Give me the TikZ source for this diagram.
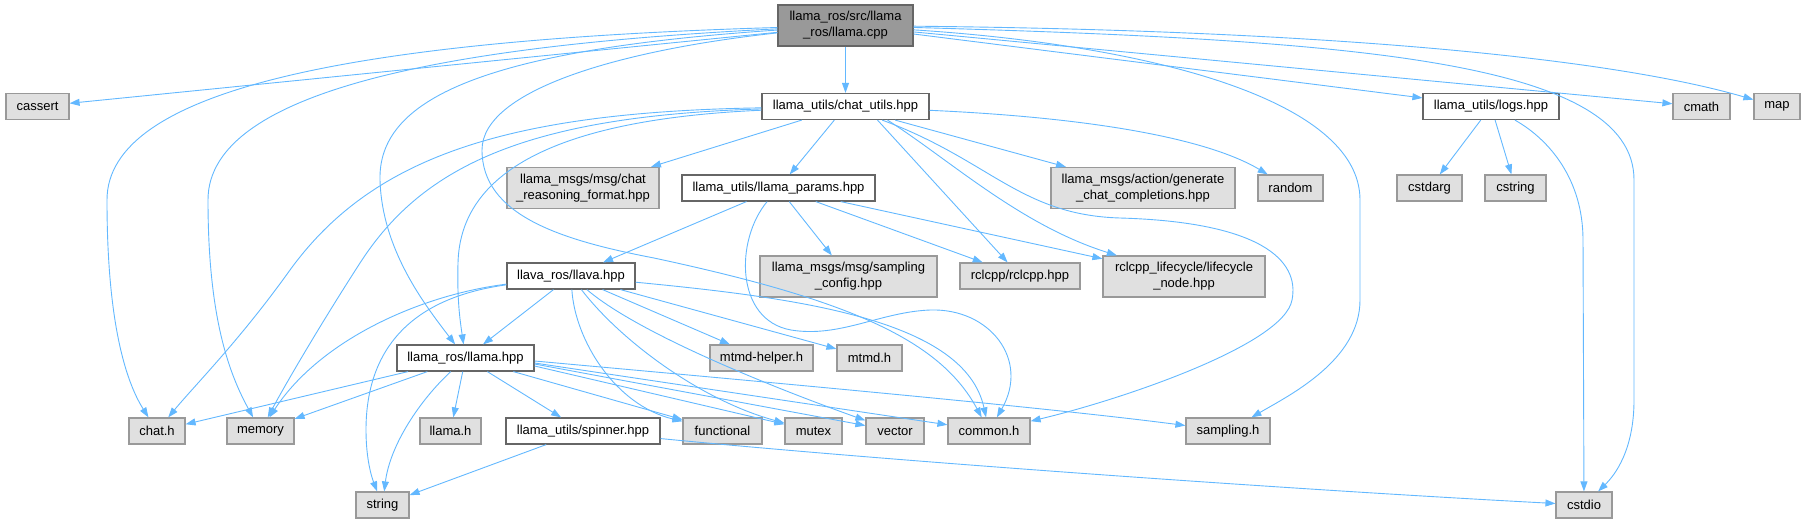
\documentclass[tikz,border=0pt]{standalone}
\usepackage{fontspec}
\setmainfont{Liberation Sans}
\usetikzlibrary{arrows.meta}
\definecolor{EdgeBlue}{HTML}{63B8FF}
\definecolor{BoxGray}{HTML}{E0E0E0}
\definecolor{LineGray}{HTML}{999999}
\definecolor{DarkGray}{HTML}{666666}
\tikzset{
  basebox/.style={rectangle, inner sep=0pt, align=center, line width=1.2pt,
    minimum height=26, font=\fontsize{13}{16}\selectfont},
  rootbox/.style={basebox, draw=DarkGray, fill=LineGray, minimum height=41},
  wbox/.style={basebox, draw=DarkGray, fill=white},
  gbox/.style={basebox, draw=LineGray, fill=BoxGray},
  gboxx/.style={gbox, minimum height=41},
  inc/.style={-{Triangle[length=10pt, width=7pt]}, line width=0.9pt, draw=EdgeBlue},
}

\begin{document}
\begin{tikzpicture}[x=1pt, y=-1pt]
    \useasboundingbox (0,0) rectangle (1806,523);
    % top rows
    \node[rootbox, minimum width=135] (root) at (845.5,25.5) {llama\_ros/src/llama\\\_ros/llama.cpp};
    \node[gbox, minimum width=63] (cassert) at (37.5,106.5) {cassert};
    \node[wbox, minimum width=167] (chatutils) at (845.5,106.5) {llama\_utils/chat\_utils.hpp};
    \node[wbox, minimum width=136] (logs) at (1491,106.5) {llama\_utils/logs.hpp};
    \node[gbox, minimum width=57] (cmath) at (1701.5,106.5) {cmath};
    \node[gbox, minimum width=46] (map) at (1777,106.5) {map};
    \node[gboxx, minimum width=152] (chatreason) at (583,188) {llama\_msgs/msg/chat\\\_reasoning\_format.hpp};
    \node[wbox, minimum width=193] (params) at (778.5,188) {llama\_utils/llama\_params.hpp};
    \node[gboxx, minimum width=184] (generate) at (1143,188) {llama\_msgs/action/generate\\\_chat\_completions.hpp};
    \node[gbox, minimum width=65] (random) at (1290.5,188) {random};
    \node[gbox, minimum width=65] (cstdarg) at (1429.5,188) {cstdarg};
    \node[gbox, minimum width=61] (cstring) at (1515.5,188) {cstring};
    \node[wbox, minimum width=128] (llava) at (571,276) {llava\_ros/llava.hpp};
    \node[gboxx, minimum width=177] (samplingcfg) at (848.5,276.5) {llama\_msgs/msg/sampling\\\_config.hpp};
    \node[gbox, minimum width=120] (rclcpp) at (1020,276) {rclcpp/rclcpp.hpp};
    \node[gboxx, minimum width=162] (lifecycle) at (1184,276.5) {rclcpp\_lifecycle/lifecycle\\\_node.hpp};
    \node[wbox, minimum width=137] (llamahpp) at (465.5,358) {llama\_ros/llama.hpp};
    \node[gbox, minimum width=103] (mtmdhelper) at (761.5,358) {mtmd-helper.h};
    \node[gbox, minimum width=65] (mtmd) at (869.5,358) {mtmd.h};
    % bottom rows
    \node[gbox, minimum width=56] (chath) at (157,431) {chat.h};
    \node[gbox, minimum width=67] (memory) at (260.5,431) {memory};
    \node[gbox, minimum width=61] (llamah) at (450.5,431) {llama.h};
    \node[wbox, minimum width=154] (spinner) at (583,431) {llama\_utils/spinner.hpp};
    \node[gbox, minimum width=79] (functional) at (722.5,431) {functional};
    \node[gbox, minimum width=57] (mutex) at (813.5,431) {mutex};
    \node[gbox, minimum width=58] (vector) at (895,431) {vector};
    \node[gbox, minimum width=82] (common) at (989,431) {common.h};
    \node[gbox, minimum width=84] (samplingh) at (1228,431) {sampling.h};
    \node[gbox, minimum width=53] (string) at (382.5,505) {string};
    \node[gbox, minimum width=56] (cstdio) at (1584,505) {cstdio};
    % llama.cpp
    \draw[inc] (root) -- (chatutils); \draw[inc] (root) -- (cassert); \draw[inc] (root) -- (logs); \draw[inc] (root) -- (cmath);
    \draw[inc] (root) .. controls (1300,30) and (1600,55) .. (map);
    \draw[inc] (root) .. controls (1150,45) and (1360,100) .. (1360,200) -- (1360,300) .. controls (1360,360) and (1290,395) .. (samplingh);
    \draw[inc] (root) .. controls (1350,40) and (1634,60) .. (1634,180) -- (1634,400) .. controls (1634,450) and (1615,475) .. (cstdio);
    \draw[inc] (root) .. controls (350,40) and (107,90) .. (107,200) .. controls (107,320) and (125,380) .. (chath);
    \draw[inc] (root) .. controls (450,45) and (208,90) .. (208,200) .. controls (208,320) and (230,375) .. (memory);
    \draw[inc] (root) .. controls (480,50) and (378,100) .. (380,180) .. controls (382,250) and (425,305) .. (llamahpp);
    \draw[inc] (root) .. controls (620,50) and (482,90) .. (482,150) .. controls (482,215) and (560,240) .. (654,258) .. controls (850,300) and (940,340) .. (common);
    % chat_utils.hpp
    \draw[inc] (chatutils) -- (chatreason); \draw[inc] (chatutils) -- (params); \draw[inc] (chatutils) -- (generate);
    \draw[inc] ([xshift=32]chatutils.south) -- (rclcpp);
    \draw[inc] ([xshift=42]chatutils.south) .. controls (950,160) and (1020,225) .. (lifecycle);
    \draw[inc] (chatutils) .. controls (1100,118) and (1210,140) .. (random);
    \draw[inc] (chatutils) .. controls (990,160) and (1020,215) .. (1120,218) .. controls (1260,222) and (1300,260) .. (1292,300) .. controls (1284,345) and (1120,400) .. (common);
    \draw[inc] (chatutils) .. controls (500,112) and (370,160) .. (290,270) .. controls (240,340) and (195,385) .. (chath);
    \draw[inc] (chatutils) .. controls (520,116) and (420,170) .. (360,263) .. controls (320,325) and (285,385) .. (memory);
    \draw[inc] (chatutils) .. controls (540,120) and (460,180) .. (458,263) .. controls (457,300) and (460,320) .. (llamahpp);
    % llama_params.hpp
    \draw[inc] (params) -- (llava); \draw[inc] (params) -- (samplingcfg); \draw[inc] (params) -- (rclcpp); \draw[inc] (params) -- (lifecycle);
    \draw[inc] (params) .. controls (735,240) and (735,320) .. (791,330) .. controls (840,338) and (880,312) .. (930,310) .. controls (990,308) and (1030,360) .. (common);
    % llava.hpp
    \draw[inc] (llava) -- (llamahpp); \draw[inc] (llava) -- (mtmdhelper); \draw[inc] (llava) -- (mtmd);
    \draw[inc] (llava) .. controls (420,295) and (320,340) .. (memory);
    \draw[inc] (llava) .. controls (410,298) and (366,350) .. (366,430) .. controls (366,460) and (372,478) .. (string);
    \draw[inc] (llava) .. controls (575,340) and (615,405) .. (functional);
    \draw[inc] (llava) .. controls (620,340) and (700,400) .. (mutex);
    \draw[inc] (llava) .. controls (640,335) and (780,390) .. (vector);
    \draw[inc] (llava) .. controls (800,298) and (965,320) .. (common);
    % llama.hpp
    \draw[inc] (llamahpp) -- (chath); \draw[inc] (llamahpp) -- (memory); \draw[inc] (llamahpp) -- (llamah); \draw[inc] (llamahpp) -- (spinner);
    \draw[inc] (llamahpp) -- (functional); \draw[inc] ([yshift=-8]llamahpp.east) -- (mutex);
    \draw[inc] ([yshift=-6]llamahpp.east) -- (vector); \draw[inc] ([yshift=-5]llamahpp.east) -- (common);
    \draw[inc] ([yshift=-3]llamahpp.east) .. controls (800,385) and (1050,408) .. (samplingh);
    \draw[inc] (llamahpp) .. controls (420,400) and (390,445) .. (string);
    % spinner.hpp and logs.hpp
    \draw[inc] (spinner) -- (string);
    \draw[inc] (spinner) .. controls (900,462) and (1300,490) .. (cstdio);
    \draw[inc] (logs) -- (cstdarg); \draw[inc] (logs) -- (cstring);
    \draw[inc] (logs) .. controls (1550,140) and (1583,180) .. (1583,240) -- (cstdio);
\end{tikzpicture}
\end{document}
